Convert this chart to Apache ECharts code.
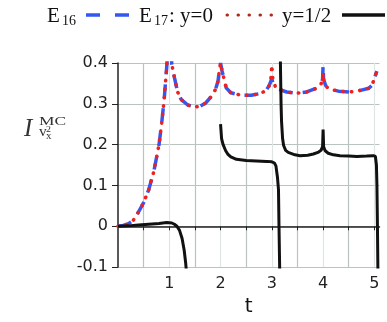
<!DOCTYPE html>
<html><head><meta charset="utf-8">
<script src="https://cdn.jsdelivr.net/npm/echarts@6/dist/echarts.min.js"></script>
<style>html,body{margin:0;padding:0;background:#fff}#c{width:387px;height:322px}</style>
</head><body><div id="c"></div>
<script>
// E16 (blue dashed)
const e16 = [
[0,0],[0.1,0.002],[0.2,0.006],[0.3,0.015],[0.4,0.035],[0.5,0.058],[0.6,0.09],[0.7,0.135],[0.8,0.2],[0.85,0.25],[0.9,0.31],[0.95,0.39],[0.97,0.43],
null,
[1.03,0.43],[1.05,0.396],[1.1,0.365],[1.16,0.33],[1.23,0.311],[1.36,0.297],[1.5,0.292],[1.6,0.294],[1.71,0.302],[1.82,0.318],[1.9,0.335],[1.95,0.355],[1.98,0.386],[2.0,0.40],[2.03,0.38],[2.06,0.365],[2.11,0.339],[2.2,0.327],[2.4,0.321],[2.6,0.321],[2.8,0.326],[2.9,0.335],[2.95,0.345],[2.98,0.355],[3.0,0.36],[3.02,0.352],[3.07,0.342],[3.13,0.336],[3.29,0.329],[3.48,0.326],[3.68,0.329],[3.87,0.338],[3.95,0.346],[3.99,0.36],[4.0,0.395],[4.01,0.36],[4.05,0.345],[4.1,0.337],[4.3,0.331],[4.53,0.329],[4.73,0.333],[4.89,0.338],[4.95,0.345],[4.99,0.358],[5.02,0.37],[5.05,0.38]
];
// E17, y=0 (red dotted)
const e17y0 = [
[0,0],[0.1,0.002],[0.2,0.006],[0.3,0.015],[0.4,0.035],[0.5,0.058],[0.6,0.09],[0.7,0.135],[0.8,0.2],[0.85,0.25],[0.9,0.31],[0.95,0.39],[0.97,0.43],
null,
[1.03,0.43],[1.05,0.396],[1.1,0.365],[1.16,0.33],[1.23,0.311],[1.36,0.297],[1.5,0.292],[1.6,0.294],[1.71,0.302],[1.82,0.318],[1.9,0.335],[1.95,0.355],[1.98,0.386],[2.0,0.40],[2.03,0.38],[2.06,0.365],[2.11,0.339],[2.2,0.327],[2.4,0.321],[2.6,0.321],[2.8,0.326],[2.9,0.335],[2.95,0.345],[2.98,0.36],[3.0,0.395],[3.02,0.36],[3.07,0.342],[3.13,0.336],[3.29,0.329],[3.48,0.326],[3.68,0.329],[3.87,0.338],[3.95,0.346],[3.99,0.358],[4.0,0.375],[4.01,0.358],[4.05,0.345],[4.1,0.337],[4.3,0.331],[4.53,0.329],[4.73,0.333],[4.89,0.338],[4.95,0.345],[4.99,0.358],[5.02,0.37],[5.05,0.38]
];
// E17, y=1/2 (black solid)
const e17yHalf = [
[0,0],[0.2,0.001],[0.4,0.003],[0.6,0.005],[0.8,0.007],[0.95,0.009],[1.05,0.008],[1.1,0.005],[1.15,0.0],[1.2,-0.01],[1.25,-0.03],[1.29,-0.058],[1.32,-0.09],[1.34,-0.12],
null,
[2.0,0.25],[2.02,0.215],[2.05,0.2],[2.1,0.185],[2.14,0.177],[2.2,0.17],[2.31,0.164],[2.5,0.161],[2.7,0.16],[2.9,0.159],[3.0,0.158],[3.05,0.155],[3.08,0.148],[3.11,0.12],[3.13,0.09],[3.14,0.0],[3.155,-0.12],
null,
[3.165,0.42],[3.18,0.3],[3.19,0.256],[3.21,0.215],[3.23,0.198],[3.27,0.186],[3.32,0.181],[3.45,0.175],[3.55,0.173],[3.7,0.174],[3.81,0.177],[3.9,0.181],[3.96,0.186],[3.99,0.195],[4.0,0.237],[4.01,0.195],[4.04,0.185],[4.1,0.179],[4.2,0.175],[4.33,0.173],[4.5,0.172],[4.66,0.171],[4.85,0.172],[4.98,0.173],[5.02,0.171],[5.04,0.15],[5.05,0.1],[5.06,0.0],[5.07,-0.12]
];
const xTickValues = [0.5,1,1.5,2,2.5,3,3.5,4,4.5,5];
const xLabelValues = [1,2,3,4,5];
const seriesNames = ['E16','E17: y=0','y=1/2'];

const chart = echarts.init(document.getElementById('c'));
const major = '#b9c4c1', minor = '#dfe5e3';
const blue = '#3358f2', red = '#ee2020', black = '#111';
const vColors = [];
for (let i = 0; i < 12; i++) vColors.push(i === 11 ? 'rgba(0,0,0,0)' : (i % 2 === 0 ? major : minor));
const serif = 'Liberation Serif';
function txt(x, y, s, size, extra, sx) {
  return {type: 'text', x: x, y: y, scaleX: sx || 1, silent: true,
    style: Object.assign({text: s, fontFamily: serif, fontSize: size, fill: '#111', verticalAlign: 'top'}, extra || {})};
}
function seg(x1, x2, y, color, width, dash, cap) {
  return {type: 'line', silent: true, shape: {x1: x1, y1: y, x2: x2, y2: y},
    style: {stroke: color, lineWidth: width, lineDash: dash || null, lineCap: cap || 'butt'}};
}
chart.setOption({
  animation: false,
  grid: {left: 118, right: 7.5, top: 63, bottom: 15},
  xAxis: {
    type: 'value', min: 0, max: 5.1, interval: 0.5,
    name: 't', nameLocation: 'middle', nameGap: 22,
    nameTextStyle: {fontFamily: 'DejaVu Sans', fontSize: 20, color: '#111'},
    axisLine: {onZero: true, lineStyle: {color: '#222', width: 1.5}},
    axisTick: {show: true, length: 4, customValues: xTickValues, lineStyle: {color: '#222'}},
    axisLabel: {customValues: xLabelValues, margin: 9, fontFamily: 'DejaVu Sans', fontSize: 16, color: '#222'},
    splitLine: {show: true, lineStyle: {color: vColors, width: 1.2}}
  },
  yAxis: {
    type: 'value', min: -0.1, max: 0.4, interval: 0.1,
    axisLine: {show: true, lineStyle: {color: '#222', width: 1.5}},
    axisTick: {show: true, length: 6, lineStyle: {color: '#222'}},
    axisLabel: {margin: 10, fontFamily: 'DejaVu Sans', fontSize: 16, color: '#222',
      formatter: function (v) { return (Math.round(v * 10) / 10).toString(); }},
    splitLine: {show: true, lineStyle: {color: major, width: 1.2}}
  },
  series: [
    {name: seriesNames[0], type: 'line', data: e16, showSymbol: false, symbol: 'none', connectNulls: false,
     lineStyle: {color: blue, width: 3.5, type: [14, 10]}, z: 2},
    {name: seriesNames[1], type: 'line', data: e17y0, showSymbol: false, symbol: 'none', connectNulls: false,
     lineStyle: {color: red, width: 3.5, type: [0.5, 8], cap: 'round'}, z: 3},
    {name: seriesNames[2], type: 'line', data: e17yHalf, showSymbol: false, symbol: 'none', connectNulls: false,
     lineStyle: {color: black, width: 3}, z: 4}
  ],
  graphic: [
    // legend
    txt(47, 6, 'E', 21),
    txt(62, 14, '16', 14),
    seg(86, 131, 15, blue, 3.5, [14, 15]),
    txt(139, 6, 'E', 21),
    txt(154, 14, '17', 14),
    txt(169, 6, ': y=0', 21),
    seg(227, 272, 15, '#b02a18', 3, [0.5, 10.5], 'round'),
    txt(282, 6, 'y=1/2', 21),
    seg(342, 385, 15, black, 3.5),
    // y axis title
    txt(24, 117, 'I', 25, {fontStyle: 'italic', fill: '#333'}),
    txt(39, 116, 'MC', 12, {fill: '#333'}, 1.45),
    txt(39, 125, 'v', 14, {fill: '#333'}, 1.1),
    txt(46, 125, '2', 9, {fill: '#333'}, 1.1),
    txt(46, 131, 'x', 10, {fill: '#333'}, 1.1)
  ]
});
</script></body></html>
